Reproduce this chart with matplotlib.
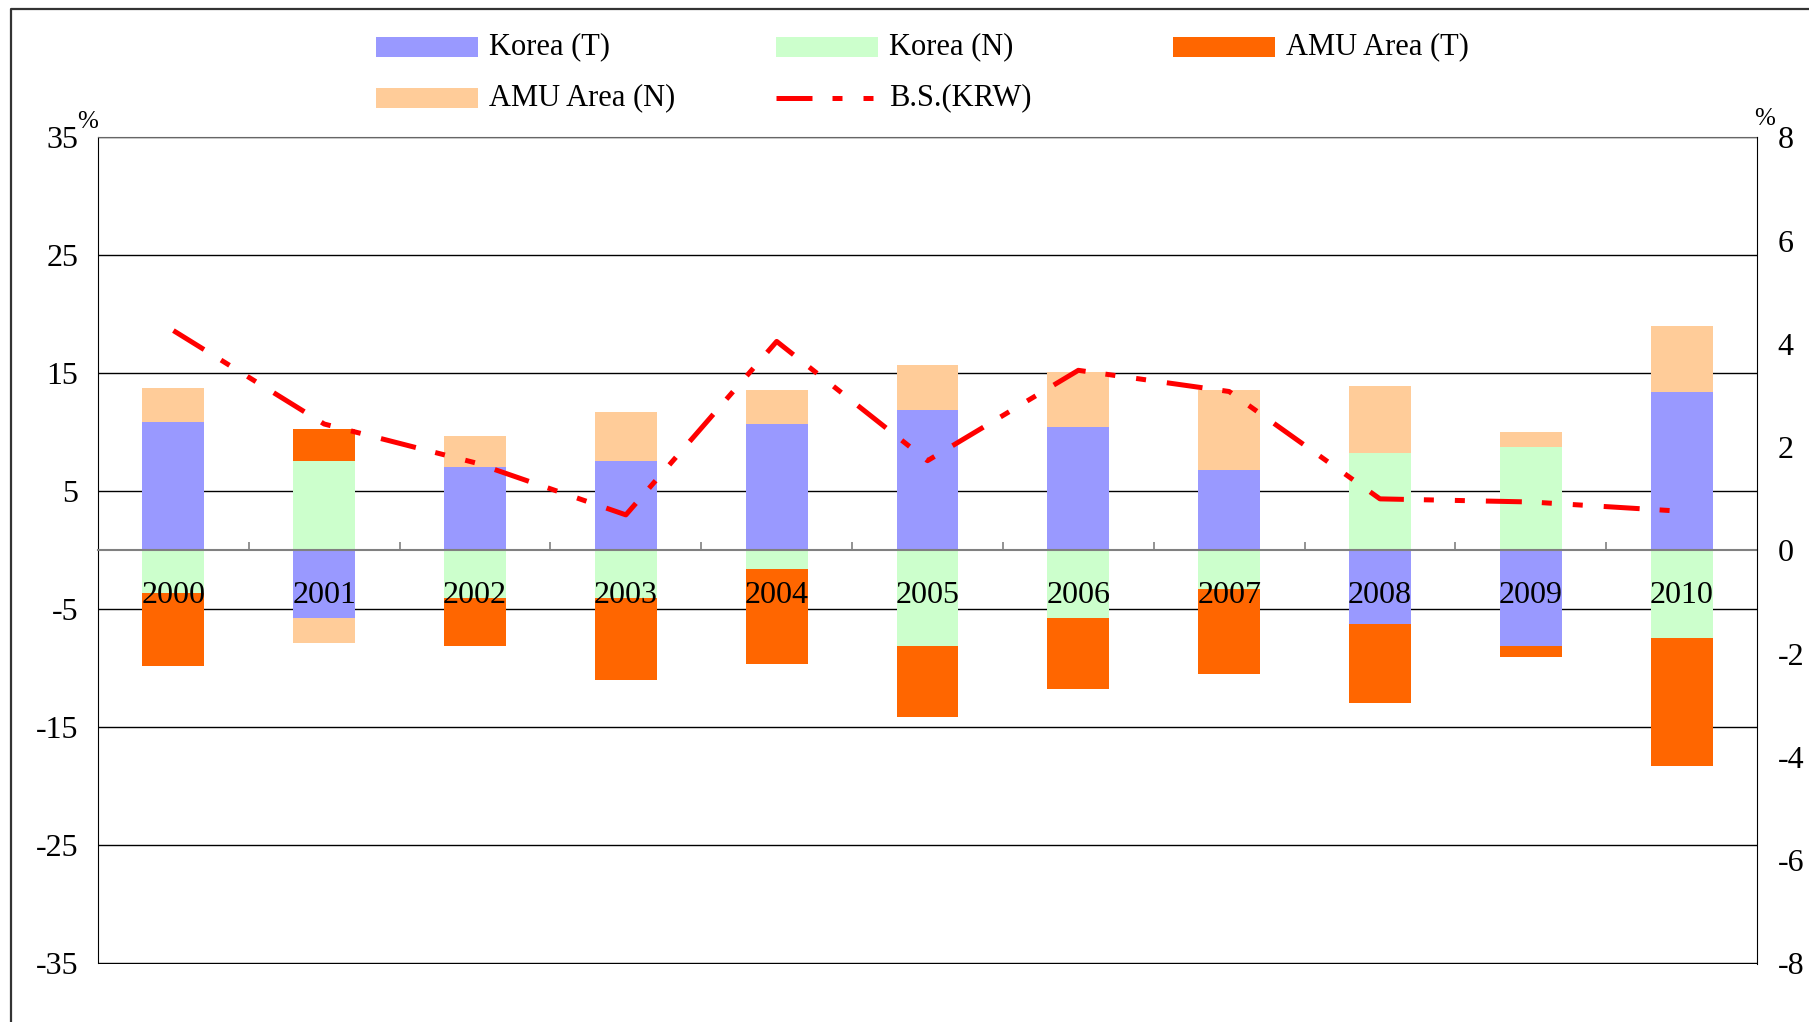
import numpy as np
import matplotlib
matplotlib.use("Agg")
import matplotlib.pyplot as plt
from matplotlib.patches import Rectangle
from matplotlib.lines import Line2D

plt.rcParams['font.family'] = ['Liberation Serif', 'DejaVu Serif']
plt.rcParams['axes.unicode_minus'] = False

# --- data ---
years = ['2000', '2001', '2002', '2003', '2004', '2005', '2006', '2007', '2008', '2009', '2010']
korea_t = [10.9, -5.7, 7.1, 7.6, 10.7, 11.9, 10.5, 6.8, -6.2, -8.1, 13.4]
korea_n = [-3.6, 7.6, -4.0, -4.0, -1.6, -8.1, -5.7, -3.3, 8.3, 8.8, -7.4]
amu_t = [-6.2, 2.7, -4.1, -7.0, -8.0, -6.0, -6.0, -7.2, -6.7, -0.9, -10.9]
amu_n = [2.9, -2.1, 2.6, 4.1, 2.9, 3.8, 4.6, 6.8, 5.6, 1.2, 5.6]
bs_krw = [4.26, 2.45, 1.7, 0.69, 4.05, 1.74, 3.49, 3.08, 1.0, 0.94, 0.76]

series = [
    ("Korea (T)", korea_t, "#9999FF"),
    ("Korea (N)", korea_n, "#CCFFCC"),
    ("AMU Area (T)", amu_t, "#FF6600"),
    ("AMU Area (N)", amu_n, "#FFCC99"),
]
LINE_COLOR = "#FF0000"
FS = 22
W, H = 1809, 1022

fig = plt.figure(figsize=(W / 100, H / 100), dpi=100, facecolor='white')


def fx(px):
    return px / W


def fy(py):
    return 1 - py / H


ax = fig.add_axes([fx(98), fy(963.5), fx(1757) - fx(98), fy(137.5) - fy(963.5)])
ax.set_axisbelow(True)

# stacked bars, positives stacked up, negatives stacked down (Excel style)
x = np.arange(len(years))
pos_base = np.zeros(len(years))
neg_base = np.zeros(len(years))
for name, vals, col in series:
    v = np.array(vals)
    bottom = np.where(v >= 0, pos_base, neg_base)
    ax.bar(x, v, width=0.41, bottom=bottom, color=col, edgecolor='none', zorder=2)
    pos_base += np.where(v >= 0, v, 0)
    neg_base += np.where(v < 0, v, 0)

ax.set_xlim(-0.5, len(years) - 0.5)
ax.set_ylim(-35, 35)
ax.set_yticks(np.arange(-35, 36, 10))
ax.yaxis.grid(True, color='black', linewidth=1.0)
ax.tick_params(axis='y', length=0, pad=14, labelsize=23)

# category axis sits on zero, labels just under it (drawn over the bars)
ax.spines['bottom'].set_position(('data', 0))
ax.spines['bottom'].set_color('#808080')
ax.spines['bottom'].set_linewidth(1.5)
ax.spines['bottom'].set_zorder(3)
ax.set_xticks(np.arange(0.5, len(years) - 1, 1.0))
ax.set_xticklabels([])
ax.set_xticks(x, minor=True)
ax.set_xticklabels(years, minor=True)
ax.tick_params(axis='x', which='major', direction='in', length=6, color='#808080', width=1.2)
ax.tick_params(axis='x', which='minor', length=0, pad=22, labelsize=23)
ax.xaxis.set_zorder(3)
ax.spines['left'].set_color('black')
ax.spines['top'].set_color('#666666')
ax.spines['right'].set_visible(False)

# B.S.(KRW) on right axis
ax2 = ax.twinx()
ax2.set_ylim(-8, 8)
ax2.set_yticks(np.arange(-8, 9, 2))
ax2.tick_params(axis='y', length=0, pad=15, labelsize=23)
for s in ['top', 'bottom', 'left']:
    ax2.spines[s].set_visible(False)
ax2.spines['right'].set_color('black')
dash = (7.2, 4.0, 2.0, 4.2, 2.0, 4.2)
ax2.plot(x, bs_krw, color=LINE_COLOR, linewidth=3.6, dashes=dash,
         dash_capstyle='butt', solid_joinstyle='miter', zorder=4)

# percent markers
fig.text(fx(77), fy(128), "%", fontsize=18, ha='left', va='baseline')
fig.text(fx(1754), fy(125), "%", fontsize=18, ha='left', va='baseline')

# legend drawn in excel row-major order
legend_pos = [(376, 47), (776, 47), (1173, 47), (376, 98)]
for (name, vals, col), (lx, ly) in zip(series, legend_pos):
    fig.add_artist(Rectangle((fx(lx), fy(ly + 10)), fx(102), 20 / H,
                             transform=fig.transFigure, facecolor=col, edgecolor='none'))
    fig.text(fx(lx + 113), fy(ly), name, fontsize=FS, ha='left', va='center')
fig.add_artist(Line2D([fx(776), fx(875)], [fy(98), fy(98)], transform=fig.transFigure,
                      color=LINE_COLOR, linewidth=3.6, dashes=dash, dash_capstyle='butt'))
fig.text(fx(776 + 113), fy(98), "B.S.(KRW)", fontsize=FS, ha='left', va='center')

# chart area border (only top/left visible in the crop)
fig.add_artist(Line2D([fx(10.5), fx(10.5), 1.0], [0.0, fy(9), fy(9)],
                      transform=fig.transFigure, color='#333333', linewidth=1.6))

fig.savefig("out.png", dpi=100, facecolor='white')
